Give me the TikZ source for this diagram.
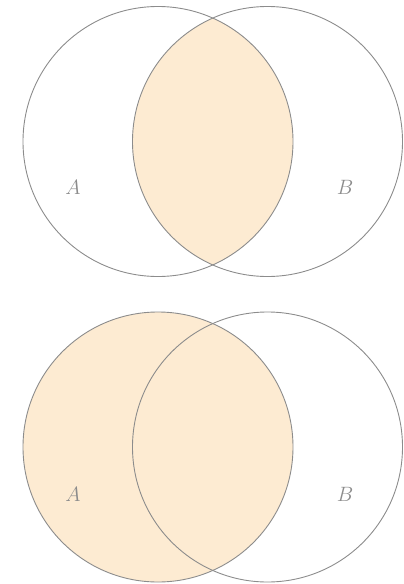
\documentclass[tikz,border=0pt]{standalone}
\definecolor{peach}{RGB}{253,235,210}
\begin{document}
\begin{tikzpicture}[x=1pt,y=-1pt,
  setline/.style={draw=black!45,line width=0.9pt},
  setfill/.style={fill=peach},
  lbl/.style={text=black!45,font=\fontsize{20}{24}\selectfont}]
\useasboundingbox (0,0) rectangle (404,584);
% top: intersection
\coordinate (A1) at (158,141.5);
\coordinate (B1) at (267.5,141.5);
\begin{scope}
  \clip (A1) circle (135);
  \fill[setfill] (B1) circle (135);
\end{scope}
\draw[setline] (A1) circle (135);
\draw[setline] (B1) circle (135);
\node[lbl] (la1) at (73,187) {$A$};
\node[lbl] (lb1) at (345,187) {$B$};
% bottom: set A
\coordinate (A2) at (158,447);
\coordinate (B2) at (267.5,447);
\fill[setfill] (A2) circle (135);
\draw[setline] (A2) circle (135);
\draw[setline] (B2) circle (135);
\node[lbl] (la2) at (73,494) {$A$};
\node[lbl] (lb2) at (345,494) {$B$};
\end{tikzpicture}
\end{document}
